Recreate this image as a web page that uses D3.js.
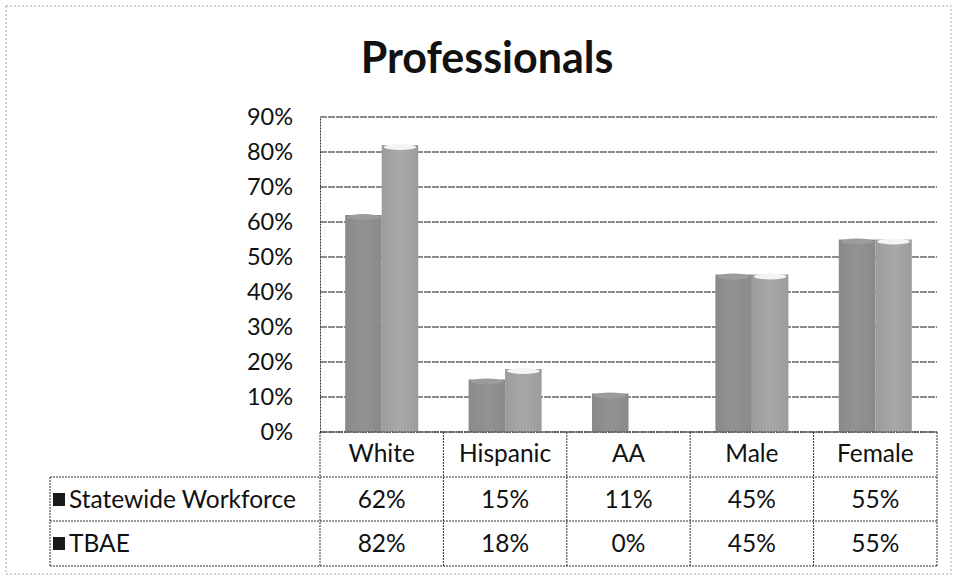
<!DOCTYPE html>
<html><head><meta charset="utf-8">
<script src="https://cdn.jsdelivr.net/npm/d3@7/dist/d3.min.js"></script>
<style>body{margin:0;background:#fff}svg{display:block}</style>
</head><body>
<script>
const categories = ["White", "Hispanic", "AA", "Male", "Female"];
const seriesNames = ["Statewide Workforce", "TBAE"];
const statewide = [62, 15, 11, 45, 55];
const tbae = [82, 18, 0, 45, 55];
const yTicks = [0, 10, 20, 30, 40, 50, 60, 70, 80, 90];

(function () {
const W = 957, H = 580;
const font = "Lato, 'Open Sans', sans-serif";
const fs = 23.5, tfs = 24.5;
const svg = d3.select("body").append("svg").attr("width", W).attr("height", H);

// outer border
svg.append("rect").attr("x", 6).attr("y", 6).attr("width", W - 12).attr("height", H - 12)
  .attr("fill", "none").attr("stroke", "#aaa").attr("stroke-dasharray", "2,2");

svg.append("text").attr("x", 487).attr("y", 73).attr("text-anchor", "middle")
  .attr("font-family", font).attr("font-weight", "bold").attr("font-size", 43)
  .attr("fill", "#111").text("Professionals");

const pLeft = 320, pRight = 937, pTop = 117, pBottom = 432;
const x = d3.scaleBand().domain(categories).range([pLeft, pRight]);
const y = d3.scaleLinear().domain([0, 90]).range([pBottom, pTop]);
const inner = d3.scaleBand().domain(seriesNames).range([0, x.bandwidth()]).paddingInner(0).paddingOuter(0.69);

// gridlines
svg.append("g").selectAll("line").data(yTicks).join("line")
  .attr("x1", pLeft).attr("x2", pRight).attr("y1", d => y(d)).attr("y2", d => y(d))
  .attr("stroke", "#1a1a1a").attr("stroke-width", 1.2).attr("stroke-dasharray", "7,1");

// y-axis
const yAxis = d3.axisLeft(y).tickValues(yTicks).tickFormat(d => d + "%").tickSize(0).tickPadding(27);
const ga = svg.append("g").attr("transform", `translate(${pLeft},0)`).call(yAxis);
ga.select(".domain").attr("stroke", "#333").attr("stroke-dasharray", "2,1");
ga.selectAll("text").attr("font-family", font).attr("font-size", fs).attr("fill", "#111");

// bars
const defs = svg.append("defs");
const mk = (id, c1, c2) => {
  const g = defs.append("linearGradient").attr("id", id).attr("x1", 0).attr("x2", 1);
  g.append("stop").attr("offset", "0%").attr("stop-color", c2);
  g.append("stop").attr("offset", "50%").attr("stop-color", c1);
  g.append("stop").attr("offset", "100%").attr("stop-color", c2);
};
mk("g0", "#929292", "#8a8a8a");
mk("g1", "#a8a8a8", "#9c9c9c");
const series = [statewide, tbae];
const caps = ["#9c9c9c", "#f4f4f4"];
series.forEach((vals, si) => {
  const g = svg.append("g");
  g.selectAll("rect").data(vals).join("rect")
    .attr("x", (d, i) => x(categories[i]) + inner(seriesNames[si]))
    .attr("width", inner.bandwidth())
    .attr("y", d => y(d)).attr("height", d => y(0) - y(d))
    .attr("fill", `url(#g${si})`);
  g.selectAll("ellipse").data(vals.map((v, i) => ({v, i})).filter(d => d.v > 0)).join("ellipse")
    .attr("cx", d => x(categories[d.i]) + inner(seriesNames[si]) + inner.bandwidth() / 2)
    .attr("cy", d => y(d.v) + 2)
    .attr("rx", inner.bandwidth() / 2 - 2).attr("ry", 3)
    .attr("fill", caps[si]);
});

// data table
const rowY = [432, 477, 521, 566];
const tableLeft = 50;
const tg = svg.append("g").attr("stroke", "#333").attr("stroke-dasharray", "2,1").attr("fill", "none");
tg.append("line").attr("x1", pLeft).attr("x2", pRight).attr("y1", rowY[0]).attr("y2", rowY[0]);
rowY.slice(1).forEach(yy => tg.append("line").attr("x1", tableLeft).attr("x2", pRight).attr("y1", yy).attr("y2", yy));
const vx = categories.map(c => x(c)).concat([pRight]);
vx.forEach(xx => tg.append("line").attr("x1", xx).attr("x2", xx).attr("y1", rowY[0]).attr("y2", rowY[3]));
tg.append("line").attr("x1", tableLeft).attr("x2", tableLeft).attr("y1", rowY[1]).attr("y2", rowY[3]);

const tt = svg.append("g").attr("font-family", font).attr("font-size", tfs).attr("fill", "#111");
categories.forEach(c => tt.append("text").attr("x", x(c) + x.bandwidth() / 2).attr("y", rowY[0] + 30)
  .attr("text-anchor", "middle").text(c));
series.forEach((vals, si) => {
  const yy = rowY[si + 1] + 31;
  vals.forEach((v, i) => tt.append("text").attr("x", x(categories[i]) + x.bandwidth() / 2).attr("y", yy)
    .attr("text-anchor", "middle").text(v + "%"));
  svg.append("rect").attr("x", 53).attr("y", yy - 15).attr("width", 12).attr("height", 13).attr("fill", "#1a1a1a");
  tt.append("text").attr("x", 69).attr("y", yy).text(seriesNames[si]);
});
})();
</script>
</body></html>
